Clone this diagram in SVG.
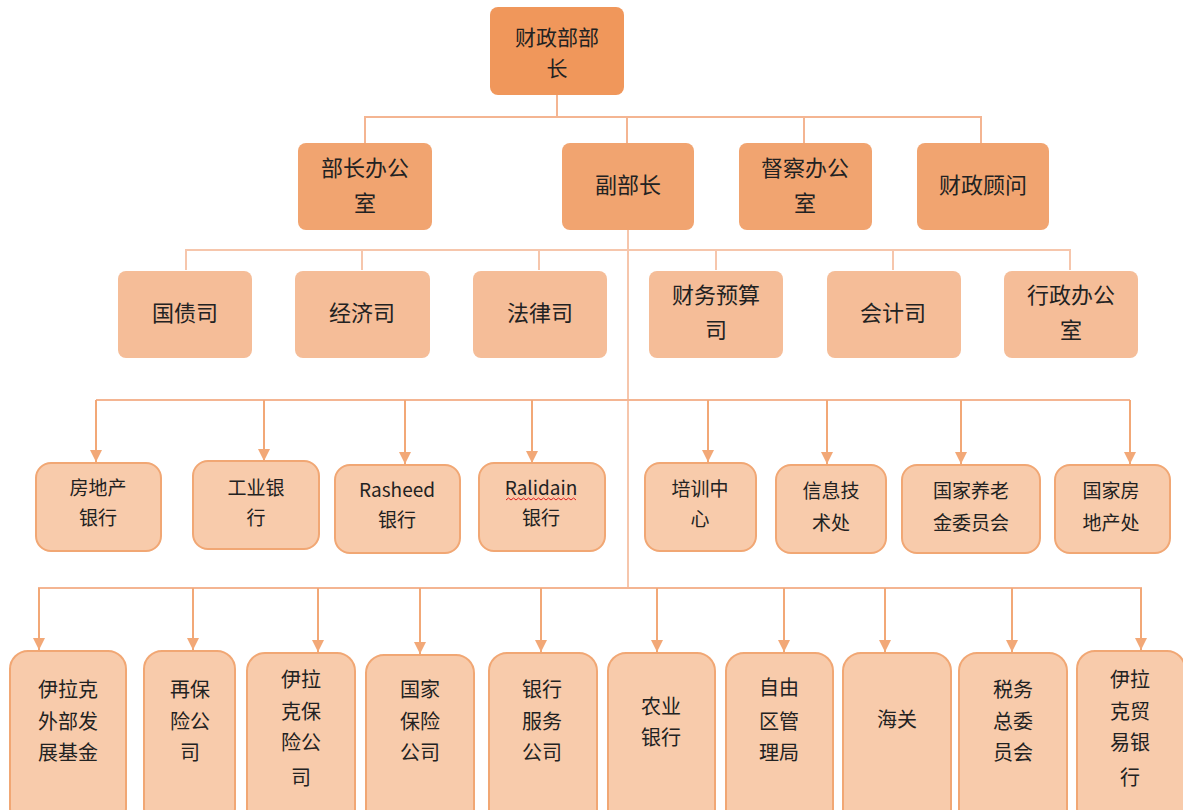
<svg xmlns="http://www.w3.org/2000/svg" width="1183" height="810" viewBox="0 0 1183 810">
<defs>
<marker id="arr" markerUnits="userSpaceOnUse" markerWidth="14" markerHeight="14" refX="12" refY="6" orient="auto">
<path d="M0,0 L12,6 L0,12 Z" fill="#F2A877"/>
</marker>
<style>
.t{font-family:"Noto Sans CJK SC","Noto Sans",sans-serif;fill:#222;text-anchor:middle}
.f22{font-size:22px}
.f21{font-size:21px}
.f20{font-size:20px}
.f19{font-size:19px}
.n1{fill:#F0975B}
.n2{fill:#F1A470}
.n3{fill:#F5BD98}
.n4{fill:#F8CBAB;stroke:#F1A774;stroke-width:2}
.ln{stroke:#F4B592;stroke-width:2;fill:none}
.ln2{stroke:#F6C6AC;stroke-width:2;fill:none}
.ar{stroke:#F2A877;stroke-width:2;fill:none;marker-end:url(#arr)}
</style>
</defs>
<rect width="1183" height="810" fill="#fff"/>
<g id="connectors">
<path class="ln" d="M557,95 V117 M365,143 V117 H981 V143 M627,117 V143 M804,117 V143"/>
<path class="ln2" d="M628,230 V588 M186,270 V250 H1070 V270 M362,250 V270 M539,250 V270 M716,250 V270 M893,250 V270"/>
<path class="ln" d="M96,400 H1130 M38,588 H1142"/>
<path class="ar" d="M96,400 V462"/>
<path class="ar" d="M264,400 V461"/>
<path class="ar" d="M405,400 V464"/>
<path class="ar" d="M532,400 V463"/>
<path class="ar" d="M708,400 V462"/>
<path class="ar" d="M827,400 V464"/>
<path class="ar" d="M961,400 V464"/>
<path class="ar" d="M1130,400 V464"/>
<path class="ar" d="M39,588 V650"/>
<path class="ar" d="M193,588 V650"/>
<path class="ar" d="M318,588 V652"/>
<path class="ar" d="M420,588 V654"/>
<path class="ar" d="M541,588 V652"/>
<path class="ar" d="M657,588 V652"/>
<path class="ar" d="M784,588 V652"/>
<path class="ar" d="M885,588 V652"/>
<path class="ar" d="M1012,588 V652"/>
<path class="ar" d="M1141,588 V650"/>
</g>
<g id="n-minister"><rect class="n1" x="490" y="7" width="134" height="88" rx="8"/><text class="t f21"><tspan x="557" y="45">财政部部</tspan><tspan x="557" y="76">长</tspan></text></g>
<g id="n-office"><rect class="n2" x="298" y="143" width="134" height="87" rx="8"/><text class="t f22"><tspan x="365" y="176">部长办公</tspan><tspan x="365" y="211">室</tspan></text></g>
<g id="n-deputy"><rect class="n2" x="562" y="143" width="132" height="87" rx="8"/><text class="t f22"><tspan x="628" y="193">副部长</tspan></text></g>
<g id="n-inspect"><rect class="n2" x="739" y="143" width="133" height="87" rx="8"/><text class="t f22"><tspan x="805" y="176">督察办公</tspan><tspan x="805" y="211">室</tspan></text></g>
<g id="n-advisor"><rect class="n2" x="917" y="143" width="132" height="87" rx="8"/><text class="t f22"><tspan x="983" y="193">财政顾问</tspan></text></g>

<g id="n-debt"><rect class="n3" x="118" y="271" width="134" height="87" rx="8"/><text class="t f22"><tspan x="185" y="321">国债司</tspan></text></g>
<g id="n-econ"><rect class="n3" x="295" y="271" width="135" height="87" rx="8"/><text class="t f22"><tspan x="362" y="321">经济司</tspan></text></g>
<g id="n-law"><rect class="n3" x="473" y="271" width="134" height="87" rx="8"/><text class="t f22"><tspan x="540" y="321">法律司</tspan></text></g>
<g id="n-budget"><rect class="n3" x="649" y="271" width="134" height="87" rx="8"/><text class="t f22"><tspan x="716" y="303">财务预算</tspan><tspan x="716" y="338">司</tspan></text></g>
<g id="n-account"><rect class="n3" x="827" y="271" width="134" height="87" rx="8"/><text class="t f22"><tspan x="893" y="321">会计司</tspan></text></g>
<g id="n-admin"><rect class="n3" x="1004" y="271" width="134" height="87" rx="8"/><text class="t f22"><tspan x="1071" y="303">行政办公</tspan><tspan x="1071" y="338">室</tspan></text></g>

<g id="n-rebank"><rect class="n4" x="36" y="463" width="125" height="88" rx="15"/><text class="t f19"><tspan x="98" y="495">房地产</tspan><tspan x="98" y="525">银行</tspan></text></g>
<g id="n-indbank"><rect class="n4" x="193" y="461" width="126" height="88" rx="15"/><text class="t f19"><tspan x="256" y="495">工业银</tspan><tspan x="256" y="525">行</tspan></text></g>
<g id="n-rasheed"><rect class="n4" x="335" y="465" width="125" height="88" rx="15"/><text class="t f19"><tspan x="397" y="497">Rasheed</tspan><tspan x="397" y="527">银行</tspan></text></g>
<g id="n-rafidain"><rect class="n4" x="479" y="463" width="126" height="88" rx="15"/><text class="t f19"><tspan x="541" y="495">Ralidain</tspan><tspan x="541" y="525">银行</tspan></text><path d="M506,500 l2.5,-2 l2.5,2 l2.5,-2 l2.5,2 l2.5,-2 l2.5,2 l2.5,-2 l2.5,2 l2.5,-2 l2.5,2 l2.5,-2 l2.5,2 l2.5,-2 l2.5,2 l2.5,-2 l2.5,2 l2.5,-2 l2.5,2 l2.5,-2 l2.5,2 l2.5,-2 l2.5,2 l2.5,-2 l2.5,2 l2.5,-2 l2.5,2 l2.5,-2 l2.5,2" fill="none" stroke="#e02020" stroke-width="1"/></g>
<g id="n-train"><rect class="n4" x="645" y="463" width="111" height="88" rx="15"/><text class="t f19"><tspan x="700" y="496">培训中</tspan><tspan x="700" y="526">心</tspan></text></g>
<g id="n-it"><rect class="n4" x="776" y="465" width="110" height="88" rx="15"/><text class="t f19"><tspan x="831" y="498">信息技</tspan><tspan x="831" y="530">术处</tspan></text></g>
<g id="n-pension"><rect class="n4" x="902" y="465" width="138" height="88" rx="15"/><text class="t f19"><tspan x="971" y="498">国家养老</tspan><tspan x="971" y="530">金委员会</tspan></text></g>
<g id="n-estate"><rect class="n4" x="1055" y="465" width="115" height="88" rx="15"/><text class="t f19"><tspan x="1111" y="498">国家房</tspan><tspan x="1111" y="530">地产处</tspan></text></g>

<g id="n-fund"><rect class="n4" x="10" y="651" width="116" height="175" rx="18"/><text class="t f20"><tspan x="68" y="697">伊拉克</tspan><tspan x="68" y="729">外部发</tspan><tspan x="68" y="760">展基金</tspan></text></g>
<g id="n-reins"><rect class="n4" x="144" y="651" width="91" height="175" rx="18"/><text class="t f20"><tspan x="190" y="697">再保</tspan><tspan x="190" y="729">险公</tspan><tspan x="190" y="760">司</tspan></text></g>
<g id="n-iraqins"><rect class="n4" x="247" y="653" width="108" height="175" rx="18"/><text class="t f20"><tspan x="301" y="687">伊拉</tspan><tspan x="301" y="719">克保</tspan><tspan x="301" y="750">险公</tspan><tspan x="301" y="785">司</tspan></text></g>
<g id="n-natins"><rect class="n4" x="366" y="655" width="108" height="175" rx="18"/><text class="t f20"><tspan x="420" y="697">国家</tspan><tspan x="420" y="729">保险</tspan><tspan x="420" y="760">公司</tspan></text></g>
<g id="n-banksvc"><rect class="n4" x="489" y="653" width="108" height="175" rx="18"/><text class="t f20"><tspan x="542" y="697">银行</tspan><tspan x="542" y="729">服务</tspan><tspan x="542" y="760">公司</tspan></text></g>
<g id="n-agri"><rect class="n4" x="608" y="653" width="107" height="175" rx="18"/><text class="t f20"><tspan x="661" y="714">农业</tspan><tspan x="661" y="745">银行</tspan></text></g>
<g id="n-freezone"><rect class="n4" x="726" y="653" width="107" height="175" rx="18"/><text class="t f20"><tspan x="779" y="695">自由</tspan><tspan x="779" y="729">区管</tspan><tspan x="779" y="760">理局</tspan></text></g>
<g id="n-customs"><rect class="n4" x="843" y="653" width="108" height="175" rx="18"/><text class="t f20"><tspan x="897" y="727">海关</tspan></text></g>
<g id="n-tax"><rect class="n4" x="959" y="653" width="108" height="175" rx="18"/><text class="t f20"><tspan x="1013" y="697">税务</tspan><tspan x="1013" y="729">总委</tspan><tspan x="1013" y="760">员会</tspan></text></g>
<g id="n-tbi"><rect class="n4" x="1077" y="651" width="108" height="175" rx="18"/><text class="t f20"><tspan x="1130" y="687">伊拉</tspan><tspan x="1130" y="719">克贸</tspan><tspan x="1130" y="750">易银</tspan><tspan x="1130" y="785">行</tspan></text></g>
</svg>
